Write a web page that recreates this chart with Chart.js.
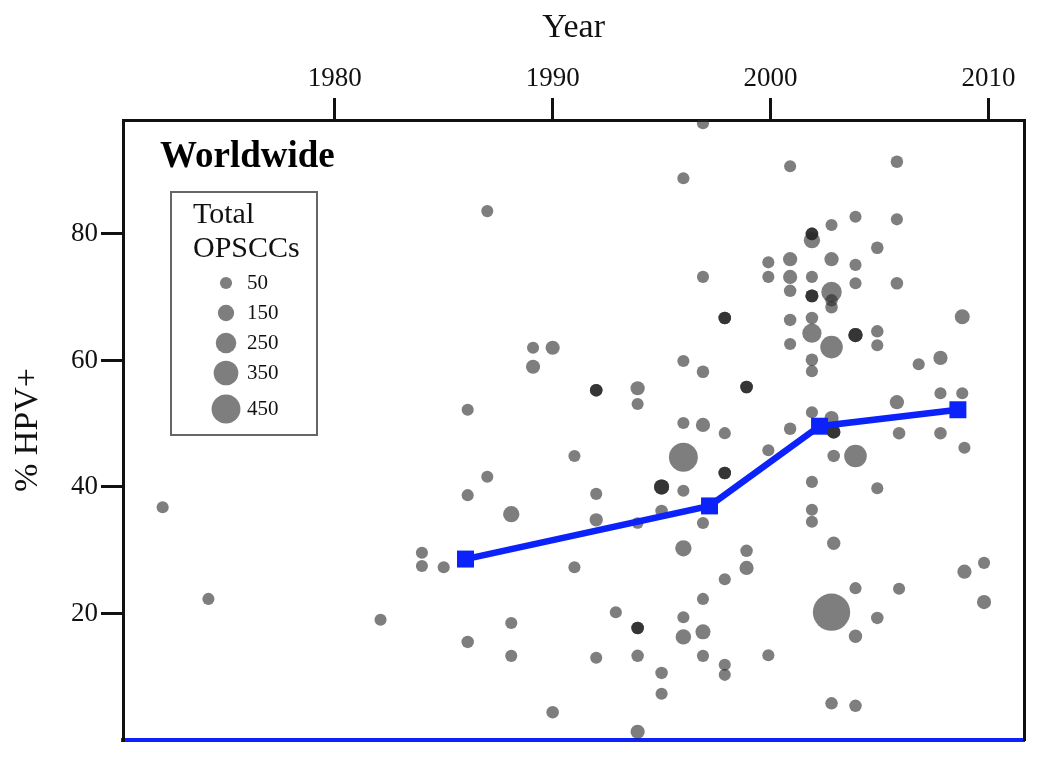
<!DOCTYPE html>
<html><head><meta charset="utf-8">
<script src="https://cdn.jsdelivr.net/npm/chart.js@4.4.1/dist/chart.umd.min.js"></script>
<style>html,body{margin:0;padding:0;background:#fff;}canvas{display:block;}</style>
</head><body>
<canvas id="c" width="1043" height="764"></canvas>
<script>
// Individual studies: year of study, % HPV+, total OPSCCs (bubble size)
const studyYear = [
 1972.1,1974.2,1982.1,1984.0,1984.0,1985.0,1986.1,1986.1,1987.0,1988.1,
 1988.1,1988.1,1990.0,1991.0,1991.0,1992.0,1992.0,1992.0,1992.9,1993.9,
 1993.9,1993.9,1993.9,1993.9,1993.9,1995.0,1995.0,1995.0,1995.0,1995.0,
 1995.0,1996.0,1996.0,1996.0,1996.0,1996.0,1996.0,1996.9,1996.9,1996.9,
 1996.9,1996.9,1997.9,1997.9,1997.9,1997.9,1997.9,1997.9,1997.9,2000.9,
 1999.9,1998.9,1998.9,1999.9,2002.9,2002.9,2002.9,2002.9,2003.9,2001.9,
 2001.9,2001.9,2002.9,2004.9,2005.9,2007.8,2008.9,2003.9,2005.9,2002.8,
 2004.9,2003.9,2008.9,2009.8,2009.8,2002.8,2003.9,1996.9,2000.9,2005.8,
 2003.9,2005.8,2002.8,2001.9,2001.9,2001.9,2001.9,2004.9,1999.9,2000.9,
 2002.8,2003.9,1999.9,2000.9,2001.9,2003.9,2005.8,1996.9,2000.9,2001.9,
 2001.9,2001.9,2002.8,2002.8,2002.8,1997.9,1997.9,1997.9,2008.8,2000.9,
 2001.9,2001.9,2003.9,2003.9,2003.9,2004.9,2004.9,2002.8,2000.9,2001.9,
 2001.9,2006.8,2007.8,1998.9,1998.9,1998.9,2007.8,2008.8,2005.8,2001.9,
 2002.8,1987.0,1996.0,1989.1,1990.0,1989.1,1992.0,1992.0,1992.0,1993.9,
 1993.9,1986.1,1996.0,1996.9
];
const studyPct = [
 36.8,22.3,19.0,29.6,27.5,27.3,38.7,15.5,41.6,35.7,
 18.5,13.3,4.4,44.9,27.3,38.9,34.8,13.0,20.2,17.7,
 17.7,17.7,13.3,1.3,34.3,40.0,40.0,40.0,36.2,10.6,
 7.3,44.7,39.4,30.3,19.4,16.3,50.1,49.8,34.3,22.3,
 17.1,13.3,48.5,42.2,42.2,42.2,25.4,11.9,10.3,49.2,
 45.8,29.9,27.2,13.4,48.7,48.7,48.7,44.9,44.9,40.8,
 36.4,34.5,31.1,39.8,48.5,48.5,46.2,24.0,23.9,20.2,
 19.3,16.4,26.6,28.0,21.8,5.8,5.4,97.5,90.7,91.4,
 82.7,82.3,81.4,80.0,80.0,80.0,79.0,77.8,75.5,76.0,
 76.0,75.1,73.2,73.2,73.2,72.2,72.2,73.2,71.0,70.2,
 70.2,70.2,70.8,69.5,68.4,66.7,66.7,66.7,66.9,66.4,
 66.7,64.3,64.0,64.0,64.0,64.6,62.4,62.1,62.6,60.1,
 58.3,59.4,60.4,55.8,55.8,55.8,54.8,54.8,53.4,51.8,
 50.9,83.6,88.8,62.0,62.0,59.0,55.3,55.3,55.3,55.6,
 53.1,52.2,59.9,58.2
];
const studyTotal = [
 50,50,50,50,50,50,50,60,50,150,
 50,50,60,50,50,50,80,50,50,60,
 60,60,60,100,40,120,120,120,60,60,
 50,450,50,150,50,130,50,100,50,50,
 120,50,50,60,60,60,50,50,50,60,
 50,60,100,50,80,80,80,60,300,50,
 50,50,80,50,60,60,50,50,50,650,
 60,80,100,50,100,60,60,50,50,60,
 50,50,50,60,60,60,150,60,50,100,
 100,50,50,100,50,50,60,50,60,70,
 70,70,250,60,60,60,60,60,120,60,
 60,220,100,100,100,60,50,300,50,60,
 50,50,100,60,60,60,50,50,100,50,
 100,50,50,50,100,100,60,60,60,100,
 50,50,50,60
];
// Pooled trend by period
const trendYear = [1986.0, 1997.2, 2002.25, 2008.6];
const trendPct  = [28.6, 37.0, 49.6, 52.2];
// Axes
const xTicks = [1980, 1990, 2000, 2010];
const yTicks = [20, 40, 60, 80];
const legendTotals = [50, 150, 250, 350, 450];

const FONT = '"Liberation Serif", "Times New Roman", serif';
const bubbleColor = 'rgba(40,40,40,0.6)';
const blue = '#0b22fb';
const radiusFor = n => 5 + 0.021 * n;

const bubbles = studyYear.map((x, i) => ({x: x, y: studyPct[i], r: radiusFor(studyTotal[i])}));
const trend = trendYear.map((x, i) => ({x: x, y: trendPct[i]}));

const overlay = {
  id: 'overlay',
  afterDraw(chart) {
    const ctx = chart.ctx;
    ctx.save();
    ctx.textBaseline = 'alphabetic';
    ctx.textAlign = 'left';
    ctx.fillStyle = '#000';
    ctx.font = 'bold 37px ' + FONT;
    ctx.fillText('Worldwide', 160, 167);
    ctx.strokeStyle = '#666';
    ctx.lineWidth = 2;
    ctx.strokeRect(171, 192, 146, 243);
    ctx.fillStyle = '#111';
    ctx.font = '30px ' + FONT;
    ctx.fillText('Total', 193, 223);
    ctx.fillText('OPSCCs', 193, 257);
    const cy = [283, 313, 343, 373, 409];
    legendTotals.forEach((n, i) => {
      ctx.beginPath();
      ctx.fillStyle = bubbleColor;
      ctx.arc(226, cy[i], radiusFor(n), 0, Math.PI * 2);
      ctx.fill();
      ctx.fillStyle = '#111';
      ctx.font = '21px ' + FONT;
      ctx.textBaseline = 'middle';
      ctx.fillText(String(n), 247, cy[i]);
    });
    ctx.restore();
  }
};

Chart.defaults.font.family = FONT;
Chart.defaults.color = '#111';

new Chart(document.getElementById('c'), {
  type: 'bubble',
  data: {
    datasets: [
      {
        type: 'line', label: 'Trend', data: trend, order: 0,
        borderColor: blue, backgroundColor: blue, borderWidth: 6.5,
        pointStyle: 'rect', pointRadius: 12, pointBorderWidth: 0,
        pointBackgroundColor: blue, tension: 0, fill: false, clip: false
      },
      {
        type: 'bubble', label: 'Studies', data: bubbles, order: 1,
        backgroundColor: bubbleColor, borderWidth: 0, clip: 0
      }
    ]
  },
  options: {
    responsive: false,
    animation: false,
    events: [],
    layout: {padding: 0},
    plugins: {legend: {display: false}, tooltip: {enabled: false}, title: {display: false}},
    scales: {
      x: {
        type: 'linear', position: 'top', min: 1970.28, max: 2011.65,
        afterBuildTicks: s => { s.ticks = xTicks.map(v => ({value: v})); },
        afterFit: s => { s.height = 120; },
        ticks: {font: {size: 27}, color: '#111', padding: 3, maxRotation: 0, autoSkip: false, callback: v => String(v)},
        grid: {display: true, drawOnChartArea: false, drawTicks: true, tickLength: 22, tickWidth: 3, color: '#111', lineWidth: 3},
        border: {display: true, color: '#111', width: 3},
        title: {display: true, text: 'Year', font: {size: 34}, color: '#111', padding: {top: 8, bottom: 0}}
      },
      x2: {
        type: 'linear', position: 'bottom', min: 1970.28, max: 2011.65,
        afterFit: s => { s.height = 24; },
        ticks: {display: false},
        grid: {display: false},
        border: {display: true, color: blue, width: 4}
      },
      y: {
        type: 'linear', position: 'left', min: 0, max: 98,
        afterBuildTicks: s => { s.ticks = yTicks.map(v => ({value: v})); },
        afterFit: s => { s.width = 123; },
        ticks: {font: {size: 27}, color: '#111', padding: 3, autoSkip: false, callback: v => String(v)},
        grid: {display: true, drawOnChartArea: false, drawTicks: true, tickLength: 22, tickWidth: 3, color: '#111', lineWidth: 3},
        border: {display: true, color: '#111', width: 3},
        title: {display: true, text: '% HPV+', font: {size: 34}, color: '#111', padding: {top: 8, bottom: 0}}
      },
      y2: {
        type: 'linear', position: 'right', min: 0, max: 98,
        afterFit: s => { s.width = 18; },
        ticks: {display: false},
        grid: {display: false},
        border: {display: true, color: '#111', width: 3}
      }
    }
  },
  plugins: [overlay]
});
</script>
</body></html>
